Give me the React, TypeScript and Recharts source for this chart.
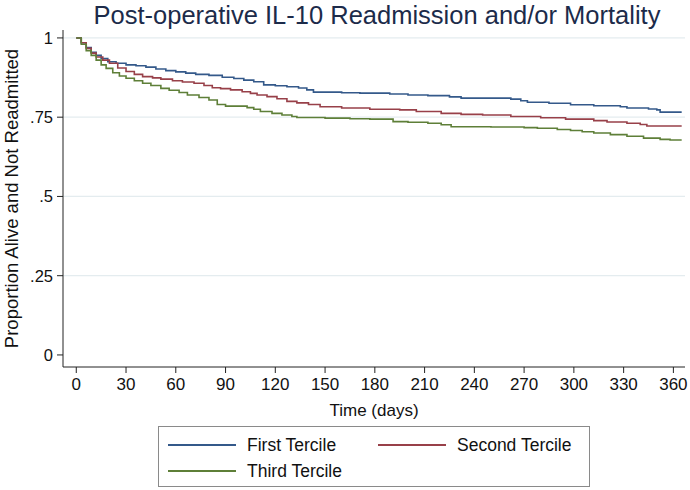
import { LineChart, Line, XAxis, YAxis, ReferenceLine } from 'recharts';

const FONT = '"Liberation Sans", Arial, Helvetica, sans-serif';

// Kaplan-Meier style survival estimates: [day, proportion]
const firstTercile: [number, number][] = [
  [0, 1], [3, 0.985], [6, 0.97], [9, 0.955], [12, 0.945], [15, 0.935], [19, 0.925],
  [24, 0.92], [30, 0.915], [36, 0.912], [42, 0.908], [48, 0.902], [54, 0.897],
  [60, 0.893], [66, 0.889], [72, 0.885], [80, 0.882], [88, 0.876], [95, 0.872],
  [101, 0.867], [107, 0.862], [113, 0.852], [120, 0.849], [127, 0.846], [134, 0.842],
  [139, 0.836], [143, 0.829], [160, 0.827], [171, 0.826], [189, 0.823], [200, 0.82],
  [212, 0.818], [225, 0.814], [232, 0.81], [262, 0.807], [268, 0.802], [272, 0.797],
  [285, 0.794], [298, 0.789], [312, 0.786], [328, 0.783], [332, 0.779], [345, 0.776],
  [350, 0.773], [352, 0.766], [365, 0.766],
];

const secondTercile: [number, number][] = [
  [0, 1], [3, 0.985], [6, 0.967], [9, 0.952], [12, 0.94], [16, 0.93], [20, 0.92],
  [25, 0.905], [30, 0.894], [35, 0.885], [40, 0.878], [46, 0.874], [51, 0.87],
  [58, 0.865], [64, 0.861], [71, 0.857], [77, 0.85], [82, 0.843], [87, 0.84],
  [93, 0.836], [100, 0.83], [105, 0.825], [109, 0.82], [115, 0.815], [121, 0.808],
  [127, 0.8], [133, 0.795], [140, 0.79], [147, 0.783], [160, 0.779], [177, 0.775],
  [195, 0.773], [205, 0.768], [220, 0.762], [232, 0.759], [245, 0.757], [262, 0.752],
  [280, 0.748], [295, 0.744], [312, 0.739], [320, 0.735], [332, 0.731], [340, 0.727],
  [344, 0.722], [365, 0.722],
];

const thirdTercile: [number, number][] = [
  [0, 1], [3, 0.98], [6, 0.96], [9, 0.945], [12, 0.93], [15, 0.915], [18, 0.904],
  [22, 0.89], [26, 0.88], [30, 0.873], [35, 0.865], [40, 0.857], [45, 0.85],
  [51, 0.841], [56, 0.835], [62, 0.828], [67, 0.82], [74, 0.812], [80, 0.804],
  [85, 0.79], [90, 0.785], [103, 0.78], [107, 0.775], [111, 0.768], [118, 0.762],
  [124, 0.757], [130, 0.752], [133, 0.749], [150, 0.747], [165, 0.745], [177, 0.744],
  [191, 0.736], [200, 0.734], [212, 0.731], [220, 0.726], [226, 0.72], [250, 0.719],
  [270, 0.717], [278, 0.715], [290, 0.711], [298, 0.708], [305, 0.704], [312, 0.7],
  [322, 0.695], [332, 0.69], [342, 0.684], [352, 0.68], [358, 0.678], [365, 0.678],
];

const xTicks = [0, 30, 60, 90, 120, 150, 180, 210, 240, 270, 300, 330, 360];
const yTicks = [0, 0.25, 0.5, 0.75, 1];
const yTickLabels = ['0', '.25', '.5', '.75', '1'];
const gridValues = [0.25, 0.5, 0.75, 1];

const series = [
  { name: 'First Tercile', color: '#34598a', points: firstTercile },
  { name: 'Second Tercile', color: '#984049', points: secondTercile },
  { name: 'Third Tercile', color: '#5e7f38', points: thirdTercile },
];

const toRows = (pts: [number, number][]) => pts.map(([day, p]) => ({ day, p }));

const LegendItem = ({ name, color, left, top }: { name: string; color: string; left: number; top: number }) => (
  <div style={{ position: 'absolute', left, top, display: 'flex', alignItems: 'center' }}>
    <div style={{ width: 68, height: 0, borderTop: `2px solid ${color}` }} />
    <span style={{ marginLeft: 11, fontSize: 17.5, color: '#111', lineHeight: '20px' }}>{name}</span>
  </div>
);

export default function App() {
  return (
    <div style={{ position: 'absolute', left: 0, top: 0, width: 690, height: 490, background: '#fff', fontFamily: FONT }}>
      <div style={{ position: 'absolute', left: 0, width: 754, top: 1, textAlign: 'center', fontSize: 25.5, color: '#1c2b4a' }}>
        Post-operative IL-10 Readmission and/or Mortality
      </div>
      <LineChart width={690} height={490} margin={{ top: 30, right: 5, left: 8, bottom: 68 }}>
        {gridValues.map(v => (
          <ReferenceLine key={v} y={v} stroke="#e4ecef" strokeWidth={1.2} />
        ))}
        <XAxis
          type="number"
          dataKey="day"
          domain={[-8, 367]}
          ticks={xTicks}
          allowDataOverflow
          height={55}
          tickSize={6}
          tickMargin={5}
          stroke="#222"
          tick={{ fill: '#111', fontSize: 17, fontFamily: FONT }}
          label={{ value: 'Time (days)', position: 'insideBottom', offset: 6, fill: '#111', fontSize: 17, fontFamily: FONT }}
        />
        <YAxis
          type="number"
          domain={[-0.038, 1.025]}
          ticks={yTicks}
          allowDataOverflow
          width={55}
          tickSize={6}
          tickMargin={4}
          stroke="#222"
          tickFormatter={(v: number) => yTickLabels[yTicks.indexOf(v)] ?? String(v)}
          tick={{ fill: '#111', fontSize: 16.5, fontFamily: FONT }}
          label={{
            value: 'Proportion Alive and Not Readmitted',
            angle: -90,
            position: 'insideLeft',
            offset: 3,
            fill: '#111',
            fontSize: 18.5,
            fontFamily: FONT,
            style: { textAnchor: 'middle' },
          }}
        />
        {series.map(s => (
          <Line
            key={s.name}
            data={toRows(s.points)}
            dataKey="p"
            type="stepAfter"
            stroke={s.color}
            strokeWidth={1.6}
            dot={false}
            isAnimationActive={false}
          />
        ))}
      </LineChart>
      <div style={{ position: 'absolute', left: 158, top: 426, width: 432, height: 61, border: '1px solid #8a8a8a', boxSizing: 'border-box' }} />
      <LegendItem name={series[0].name} color={series[0].color} left={168} top={435} />
      <LegendItem name={series[1].name} color={series[1].color} left={378} top={435} />
      <LegendItem name={series[2].name} color={series[2].color} left={168} top={461} />
    </div>
  );
}
